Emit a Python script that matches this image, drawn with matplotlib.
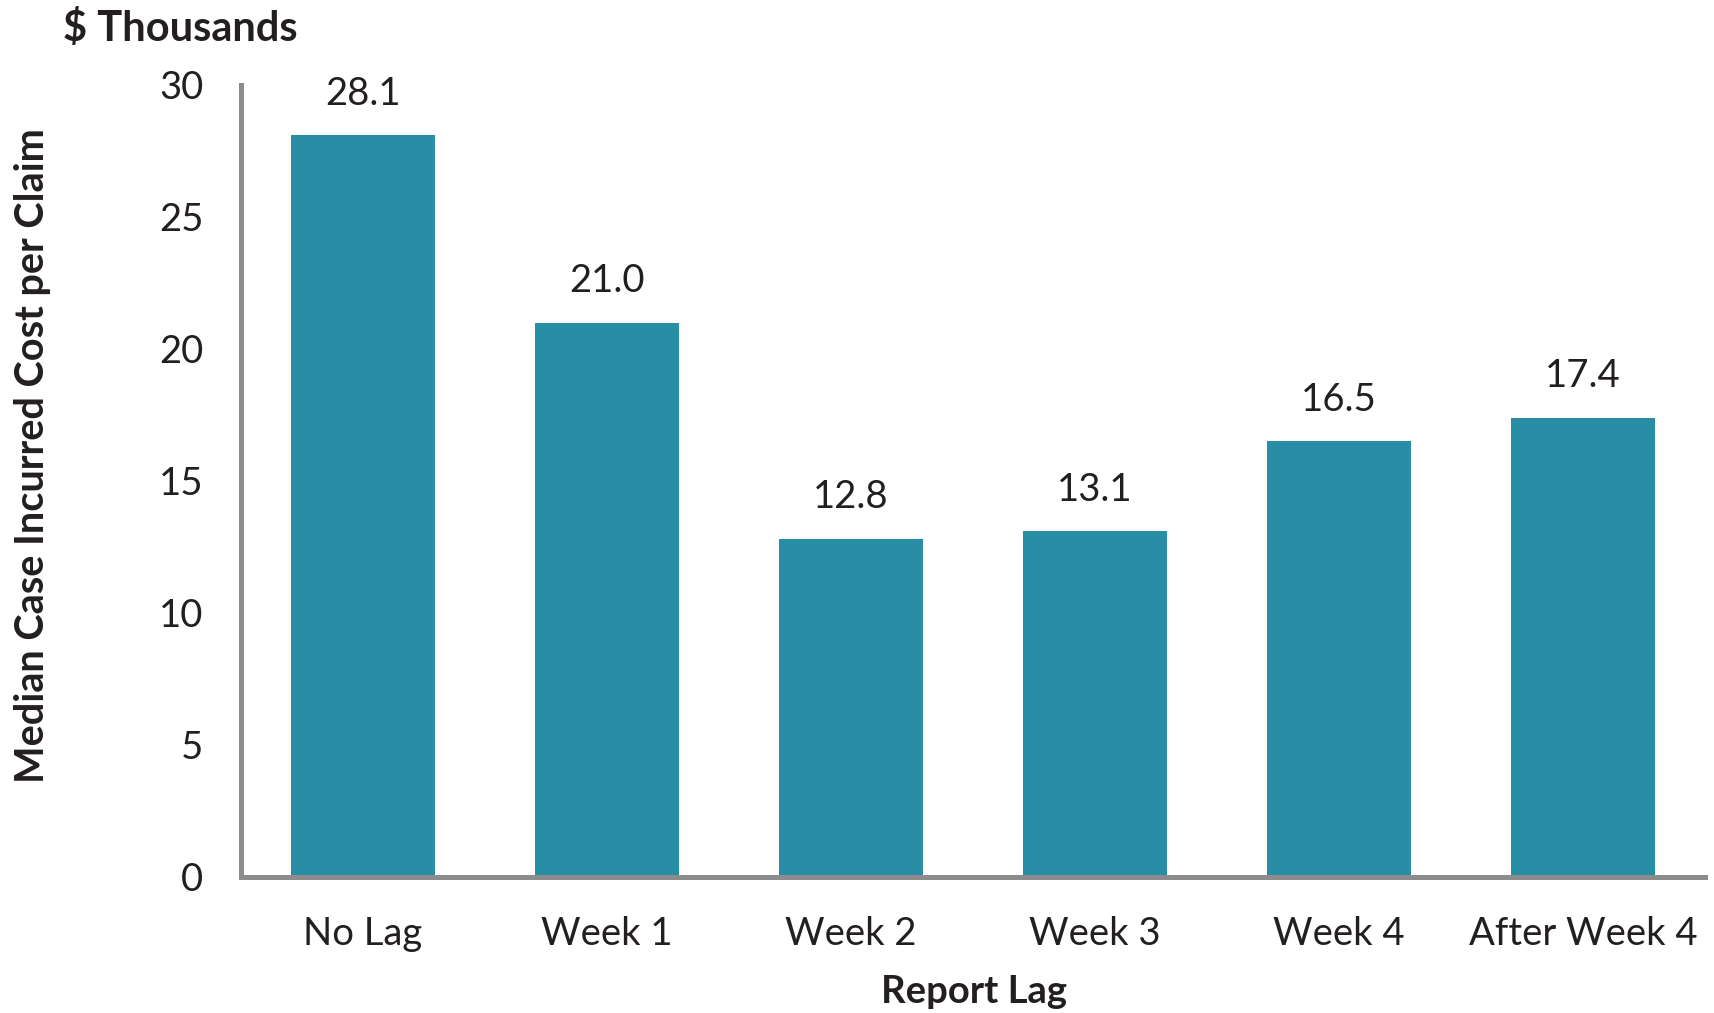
import matplotlib.pyplot as plt
import numpy as np

# data
categories = ['No Lag', 'Week 1', 'Week 2', 'Week 3', 'Week 4', 'After Week 4']
values = [28.1, 21.0, 12.8, 13.1, 16.5, 17.4]
yticks = [0, 5, 10, 15, 20, 25, 30]

plt.rcParams['font.family'] = ['Lato', 'DejaVu Sans']
bar_color = '#298EA5'
axis_color = '#8C8C8F'
text_color = '#231F20'

fig = plt.figure(figsize=(17.14, 10.13), dpi=100)
ax = fig.add_axes([0.1406, 0.1343, 0.8541, 0.7818])

x = np.arange(len(categories))
bars = ax.bar(x, values, width=0.59, color=bar_color, zorder=2)

for xi, v in zip(x, values):
    ax.annotate(f'{v:.1f}', (xi, v), xytext=(0, 17), textcoords='offset points',
                ha='center', va='bottom', fontsize=27.5, color=text_color)

ax.set_xlim(-0.5, 5.5)
ax.set_ylim(0, 30)
ax.set_xticks(x)
ax.set_xticklabels(categories, fontsize=27.5, color=text_color)
ax.set_yticks(yticks)
ax.set_yticklabels([str(t) for t in yticks], fontsize=27.5, color=text_color)
ax.tick_params(axis='both', length=0)
ax.tick_params(axis='y', pad=27)
ax.tick_params(axis='x', pad=28)

for s in ['top', 'right']:
    ax.spines[s].set_visible(False)
for s in ['left', 'bottom']:
    ax.spines[s].set_color(axis_color)
    ax.spines[s].set_linewidth(3.6)

fig.text(0.568, 0.021, 'Report Lag', ha='center', va='center',
         fontsize=27.5, fontweight='bold', color=text_color)
fig.text(0.019, 0.55, 'Median Case Incurred Cost per Claim', rotation=90,
         ha='center', va='center', fontsize=28.5, fontweight='bold', color=text_color)
fig.text(0.037, 0.972, '$ Thousands', ha='left', va='center',
         fontsize=30, fontweight='bold', color=text_color)

plt.savefig('out.png')
